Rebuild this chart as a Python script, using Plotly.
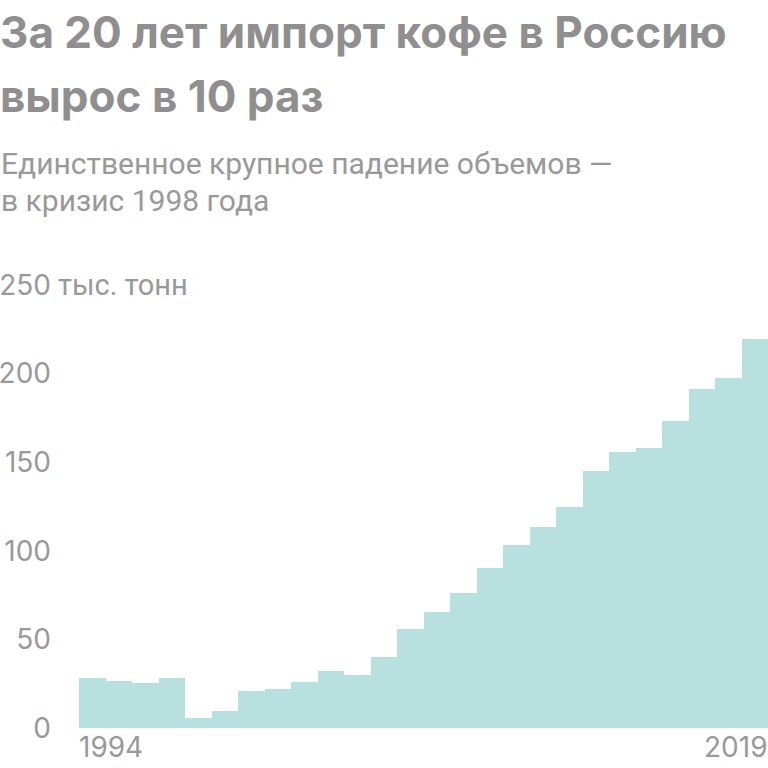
import plotly.graph_objects as go

years = list(range(1994, 2020))
imports = [28.2, 26.3, 25.4, 28.2, 5.6, 9.6, 20.7, 22.0, 26.0, 32.2, 29.9, 40.0, 56.0,
           65.2, 76.2, 90.3, 103.3, 113.4, 124.9, 145.2, 155.9, 158.2, 173.2, 191.3, 197.3, 219.7]
y_ticks = [0, 50, 100, 150, 200, 250]
y_ticktext = ["0", "50", "100", "150", "200", "250"]

title_lines = ["За 20 лет импорт кофе в Россию", "вырос в 10 раз"]
subtitle_lines = ["Единственное крупное падение объемов —", "в кризис 1998 года"]
unit_label = "тыс. тонн"

W, H = 768, 768
ML, MR, MT, MB = 79, 0, 285, 40
PW, PH = W - ML - MR, H - MT - MB

FONT = "Roboto"
TICK_FONT = "Inter"
TITLE_FONT = "Inter"
GREY = "#999999"
BAR = "#b8e0df"


def px(x):
    return (x - ML) / PW


def py(y):
    return 1 - (y - MT) / PH


fig = go.Figure()
fig.add_trace(go.Bar(x=years, y=imports, width=1, marker=dict(color=BAR, line=dict(width=0)),
                     hoverinfo="x+y"))

annotations = []
for line, cy in zip(title_lines, [32, 96]):
    annotations.append(dict(text=f"<b>{line}</b>", xref="paper", yref="paper", x=px(-2), y=py(cy),
                            xanchor="left", yanchor="middle", showarrow=False,
                            font=dict(family=TITLE_FONT, size=44, color="#8f8f8f")))
for line, cy in zip(subtitle_lines, [163, 200]):
    annotations.append(dict(text=line, xref="paper", yref="paper", x=px(-1), y=py(cy),
                            xanchor="left", yanchor="middle", showarrow=False,
                            font=dict(family=FONT, size=30, color=GREY)))
annotations.append(dict(text=unit_label, xref="paper", yref="y", x=px(56), y=y_ticks[-1],
                        xanchor="left", yanchor="middle", showarrow=False,
                        font=dict(family=FONT, size=29, color=GREY)))
annotations.append(dict(text=str(years[0]), xref="x", yref="y", x=years[0] - 0.5, y=0,
                        xanchor="left", yanchor="top", showarrow=False, xshift=-2,
                        font=dict(family=TICK_FONT, size=28, color=GREY)))
annotations.append(dict(text=str(years[-1]), xref="x", yref="y", x=years[-1] + 0.5, y=0,
                        xanchor="right", yanchor="top", showarrow=False, xshift=2,
                        font=dict(family=TICK_FONT, size=28, color=GREY)))

fig.update_layout(
    width=W, height=H,
    margin=dict(l=ML, r=MR, t=MT, b=MB),
    paper_bgcolor="white", plot_bgcolor="white",
    showlegend=False, bargap=0,
    annotations=annotations,
    xaxis=dict(range=[years[0] - 0.5, years[-1] + 0.5], showticklabels=False, showgrid=False,
               zeroline=False, showline=False, ticks=""),
    yaxis=dict(range=[0, 250], tickvals=y_ticks, ticktext=y_ticktext, showgrid=False,
               zeroline=False, showline=False, ticks="", ticklabelstandoff=27,
               tickfont=dict(family=TICK_FONT, size=28, color=GREY)),
)

fig.write_html("out.html", config={"displayModeBar": False},
               post_script="document.body.style.margin='0';document.body.style.overflow='hidden';")
